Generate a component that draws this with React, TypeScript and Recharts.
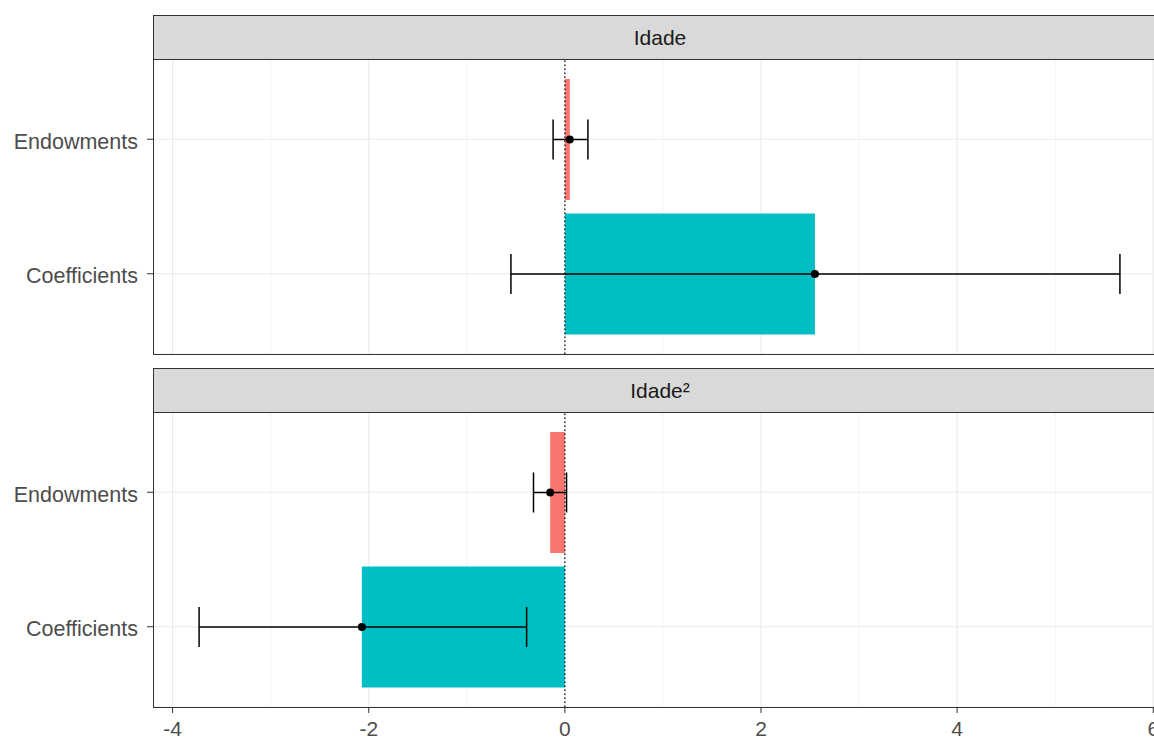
import { BarChart, Bar, XAxis, YAxis, CartesianGrid, ErrorBar, ReferenceLine, Cell } from 'recharts'

const categories = ['Endowments', 'Coefficients']
const barColors = ['#F8766D', '#00BFC4']

// Idade
const idadeValues = [0.05, 2.55]
const idadeLow = [-0.12, -0.55]
const idadeHigh = [0.235, 5.66]

// Idade²
const idade2Values = [-0.15, -2.07]
const idade2Low = [-0.32, -3.73]
const idade2High = [0.017, -0.39]

const majorTicks = [-4, -2, 0, 2, 4, 6]
const minorTicks = [-3, -1, 1, 3, 5]
const xDomain = [-4.2, 6.14]

const FONT = 'Arial, "Liberation Sans", sans-serif'
const PANEL_LEFT = 153
const PANEL_W = 1014
const PANEL_H = 295
const AXIS_H = 32

function buildRows(values: number[], low: number[], high: number[]) {
  return categories.map((name, i) => ({
    name,
    value: values[i],
    err: [values[i] - low[i], high[i] - values[i]],
  }))
}

// bar with the point estimate drawn at its end
function BarWithDot(props: any) {
  const { x, y, width, height, fill, value } = props
  const left = Math.min(x, x + width)
  const right = Math.max(x, x + width)
  const top = Math.min(y, y + height)
  const h = Math.abs(height)
  const v = Array.isArray(value) ? value[1] : value
  const end = v >= 0 ? right : left
  return (
    <g>
      <rect x={left} y={top} width={right - left} height={h} fill={fill} />
      <circle cx={end} cy={top + h / 2} r={4} fill="#000" />
    </g>
  )
}

interface FacetProps {
  title: string
  stripTop: number
  values: number[]
  low: number[]
  high: number[]
  showXAxis?: boolean
}

function Facet({ title, stripTop, values, low, high, showXAxis }: FacetProps) {
  const data = buildRows(values, low, high)
  const panelTop = stripTop + 44
  return (
    <>
      <div
        style={{
          position: 'absolute',
          left: PANEL_LEFT,
          top: stripTop,
          width: PANEL_W,
          height: 45,
          boxSizing: 'border-box',
          background: '#D9D9D9',
          border: '1px solid #333',
          display: 'flex',
          alignItems: 'center',
          justifyContent: 'center',
          fontSize: 21,
          color: '#1A1A1A',
        }}
      >
        {title}
      </div>
      <div style={{ position: 'absolute', left: 0, top: panelTop }}>
        <BarChart
          width={1170}
          height={PANEL_H + (showXAxis ? AXIS_H : 0)}
          data={data}
          layout="vertical"
          margin={{ top: 0, right: 3, left: 0, bottom: 0 }}
        >
          <CartesianGrid verticalValues={minorTicks} horizontal={false} stroke="#F3F3F3" strokeWidth={1} />
          <CartesianGrid verticalValues={majorTicks} stroke="#EBEBEB" strokeWidth={1.2} />
          <XAxis
            type="number"
            domain={xDomain}
            ticks={majorTicks}
            allowDataOverflow
            hide={!showXAxis}
            height={AXIS_H}
            axisLine={false}
            tickLine={{ stroke: '#333' }}
            tickSize={6}
            tickMargin={8}
            tick={{ fill: '#4D4D4D', fontSize: 21, fontFamily: FONT }}
          />
          <YAxis
            type="category"
            dataKey="name"
            width={PANEL_LEFT}
            padding={{ top: 13, bottom: 13 }}
            axisLine={false}
            tickLine={{ stroke: '#333' }}
            tickSize={6}
            tickMargin={9}
            tick={{ fill: '#4D4D4D', fontSize: 21.5, fontFamily: FONT, dy: 2 }}
          />
          <Bar dataKey="value" barSize={121} shape={BarWithDot} isAnimationActive={false}>
            {data.map((d, i) => (
              <Cell key={d.name} fill={barColors[i]} />
            ))}
            <ErrorBar dataKey="err" direction="x" width={20} stroke="#000" strokeWidth={1.5} />
          </Bar>
          <ReferenceLine x={0} stroke="#000" strokeWidth={1.2} strokeDasharray="1.5 2.5" />
        </BarChart>
      </div>
      <div
        style={{
          position: 'absolute',
          left: PANEL_LEFT,
          top: panelTop,
          width: PANEL_W,
          height: PANEL_H + 1,
          boxSizing: 'border-box',
          border: '1px solid #333',
          pointerEvents: 'none',
        }}
      />
    </>
  )
}

export default function App() {
  return (
    <div
      style={{
        position: 'fixed',
        left: 0,
        top: 0,
        width: 1154,
        height: 740,
        overflow: 'hidden',
        background: '#fff',
        fontFamily: FONT,
      }}
    >
      <Facet title="Idade" stripTop={15} values={idadeValues} low={idadeLow} high={idadeHigh} />
      <Facet title="Idade²" stripTop={368} values={idade2Values} low={idade2Low} high={idade2High} showXAxis />
    </div>
  )
}
